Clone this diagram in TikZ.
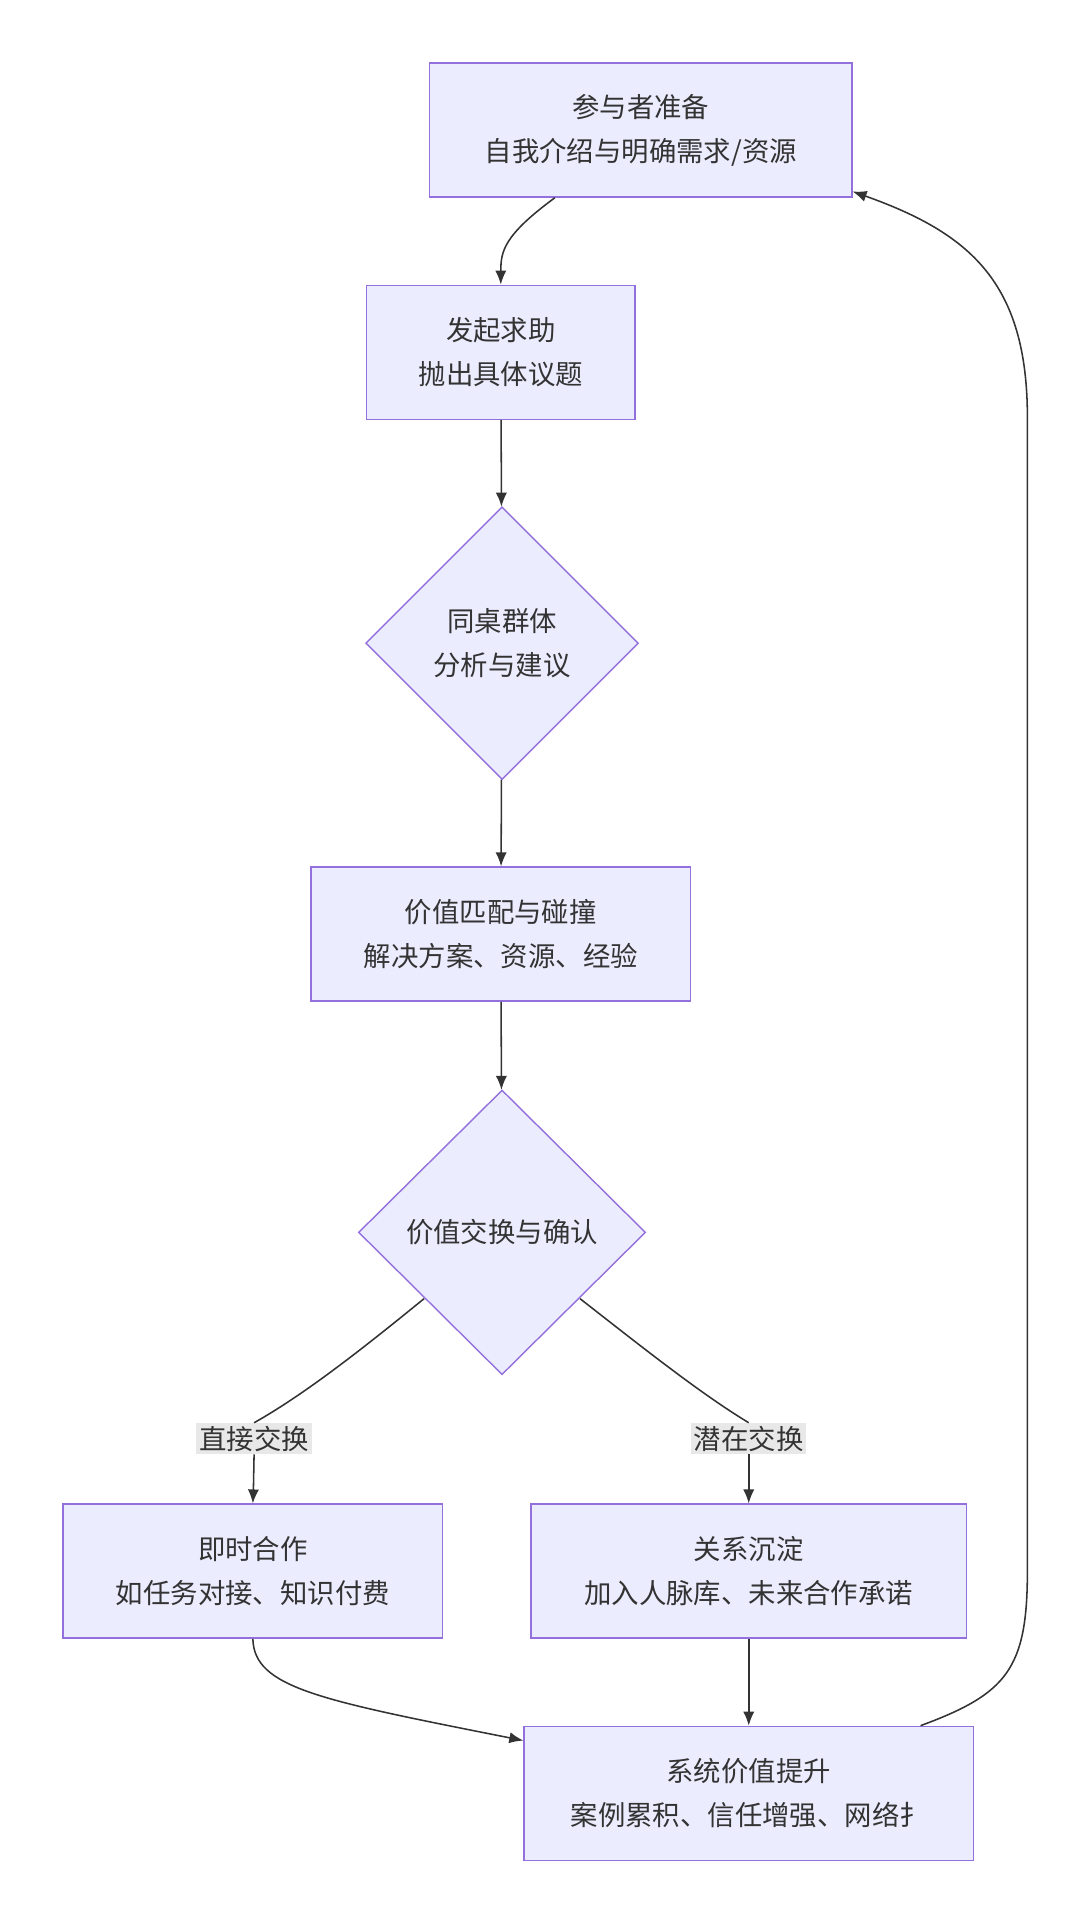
\documentclass[tikz,border=0pt]{standalone}
\usepackage{fontspec}
\setmainfont{Noto Sans CJK SC}
\usetikzlibrary{arrows.meta,shapes.geometric}
\definecolor{boxfill}{HTML}{ECECFF}
\definecolor{boxline}{HTML}{9370DB}
\definecolor{linkc}{HTML}{333333}
\definecolor{lblbg}{HTML}{E8E8E8}
\tikzset{
  stage/.style={draw=boxline, fill=boxfill, line width=1pt, align=center, inner sep=0pt, minimum height=3.35cm},
  check/.style={draw=boxline, fill=boxfill, line width=1pt, diamond, align=center, inner sep=0pt, aspect=1},
  link/.style={draw=linkc, line width=1.1pt, -{Latex[length=10pt,width=8pt]}},
  tag/.style={fill=lblbg, inner sep=2pt}
}
\begin{document}
\begin{tikzpicture}[x=0.0307cm,y=-0.0307cm,font=\fontsize{19.5}{31}\selectfont,text=linkc]
\useasboundingbox (0,0) rectangle (880,1552);
% nodes
\node [stage, minimum width=10.56cm] (prep) at (522,106) {参与者准备\\自我介绍与明确需求/资源};
\node [stage, minimum width=6.72cm] (ask) at (408,287) {发起求助\\抛出具体议题};
\node [check, minimum width=6.82cm, minimum height=6.82cm] (group) at (409,524) {同桌群体\\分析与建议};
\node [stage, minimum width=9.49cm] (match) at (408,761) {价值匹配与碰撞\\解决方案、资源、经验};
\node [check, minimum width=7.18cm, minimum height=7.12cm] (deal) at (409,1004) {价值交换与确认};
\node [stage, minimum width=9.49cm] (now) at (206,1280) {即时合作\\如任务对接、知识付费};
\node [stage, minimum width=10.9cm] (later) at (610,1280) {关系沉淀\\加入人脉库、未来合作承诺};
\node [stage, minimum width=11.24cm] (gain) at (610,1461) {系统价值提升\\案例累积、信任增强、网络扌};
\node [tag] (direct) at (207,1172) {直接交换};
\node [tag] (latent) at (610,1172) {潜在交换};
% links
\draw [link] (prep.south) ++(-70,0) .. controls (410,192) and (408,205) .. (ask.north);
\draw [link] (ask) -- (group);
\draw [link] (group) -- (match);
\draw [link] (match) -- (deal);
\draw [draw=linkc, line width=1.1pt] (deal.west) ++(54,54) .. controls (300,1095) and (250,1135) .. (direct.north);
\draw [link] (direct.south) .. controls (207,1200) .. (now.north);
\draw [draw=linkc, line width=1.1pt] (deal.east) ++(-54,54) .. controls (520,1095) and (570,1135) .. (latent.north);
\draw [link] (latent.south) .. controls (610,1200) .. (later.north);
\draw [link] (now.south) .. controls (207,1375) and (260,1385) .. (gain.west |- 0,1418);
\draw [link] (later) -- (gain);
\draw [link] (gain.north) ++(140,0) .. controls (820,1380) and (837,1360) .. (837,1280) -- (837,340) .. controls (837,230) and (790,190) .. (prep.east |- 0,156);
\end{tikzpicture}
\end{document}
